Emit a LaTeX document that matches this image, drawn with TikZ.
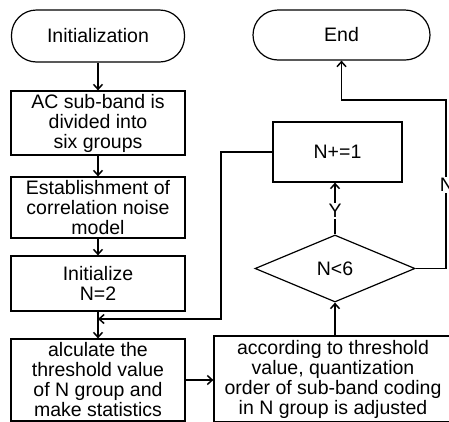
\documentclass[tikz,border=0pt]{standalone}
\usepackage{fontspec}
\setmainfont{Liberation Sans}
\usetikzlibrary{arrows.meta,shapes.geometric}
\newcommand\figfont{\fontsize{19.5}{20}\selectfont}
\begin{document}
\begin{tikzpicture}[x=1pt,y=-1pt,line width=1.2pt,
  box/.style={draw,rectangle,inner sep=0pt,align=center,font=\figfont},
  term/.style={box,rounded corners=25pt},
  dec/.style={draw,diamond,inner sep=0pt,aspect=2.4,align=center,font=\figfont},
  arr/.style={-{Straight Barb[length=5pt,width=9pt,line width=1.5pt]}},
  lbl/.style={fill=white,inner sep=1pt,font=\figfont}]
\useasboundingbox (0,0) rectangle (449,421);
\clip (0,0) rectangle (449,421);
\node[term,minimum width=173pt,minimum height=52pt] (init) at (98,36) {Initialization};
\node[box,minimum width=174pt,minimum height=64pt] (ac) at (98,123) {AC sub-band is\\divided into\\six groups};
\node[box,minimum width=174pt,minimum height=61pt] (est) at (98,207.5) {Establishment of\\correlation noise\\model};
\node[box,minimum width=174pt,minimum height=55pt] (ini) at (98,283.5) {Initialize\\N=2};
\node[box,minimum width=174pt,minimum height=82pt] (calc) at (98,380) {alculate the\\threshold value\\of N group and\\make statistics};
\node[box,minimum width=238pt,minimum height=86pt] (adj) at (333,379) {according to threshold\\value, quantization\\order of sub-band coding\\in N group is adjusted};
\node[dec,minimum width=160pt,minimum height=67pt] (d) at (335,268.5) {N<6};
\node[box,minimum width=129pt,minimum height=60pt] (inc) at (337.5,152) {N+=1};
\node[term,minimum width=177pt,minimum height=50pt] (end) at (341.5,35) {End};
\coordinate (fb) at (221,319);
\coordinate (fbend) at (98,319);
\coordinate (nr) at (446,100);
\draw[arr] (init) -- (ac);
\draw[arr] (ac) -- (est);
\draw[arr] (est) -- (ini);
\draw[arr] (ini) -- (calc);
\draw[arr] (inc.west) -| (fb) -- (fbend);
\draw[arr] (calc.east) -- (calc.east -| adj.west);
\draw[arr] (d.south |- adj.north) -- (d.south);
\draw[arr] (d.north) -- node[lbl,pos=0.45] (y) {Y} (d.north |- inc.south);
\draw[arr] (d.east) -| (nr) -| (end.south);
\node[lbl] (n) at (447,185) {N};
\end{tikzpicture}
\end{document}
